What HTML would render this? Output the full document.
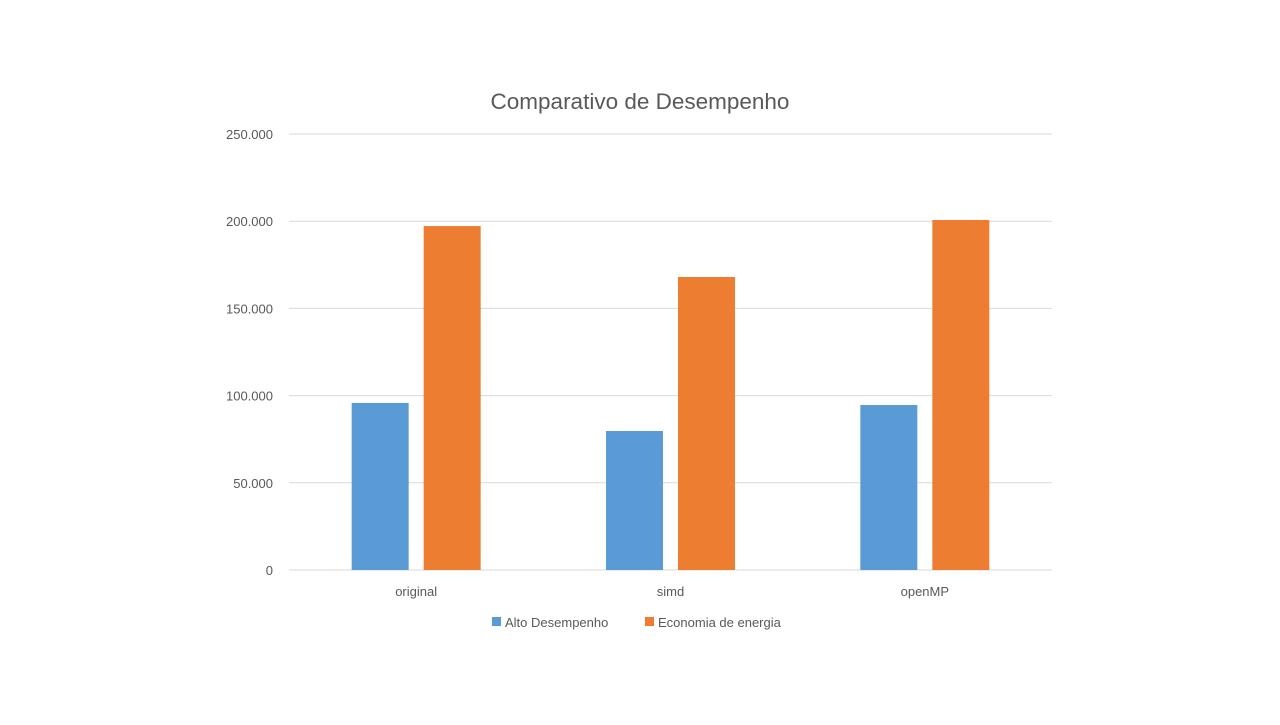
<!DOCTYPE html>
<html><head><meta charset="utf-8"><style>
body{margin:0;background:#fff;font-family:"Liberation Sans",sans-serif;}
</style></head><body>
<svg width="1280" height="720" id="c" xmlns="http://www.w3.org/2000/svg">
<rect width="1280" height="720" fill="#fff"/>
<text x="640" y="109" text-anchor="middle" font-size="22.5" fill="#595959">Comparativo de Desempenho</text>
</svg>
<script>
const categories=["original","simd","openMP"];
const altoValues=[95.8,79.7,94.6];
const economiaValues=[197.2,168.0,200.7];
const tickValues=[0,50,100,150,200,250];
const tickLabels=["0","50.000","100.000","150.000","200.000","250.000"];
const svg=document.getElementById('c');
const NS='http://www.w3.org/2000/svg';
const x0=289,x1=1052,yTop=134,yBot=570,maxV=250;
const y=v=>yBot-(v/maxV)*(yBot-yTop);
const band=(x1-x0)/categories.length;
const cx=i=>x0+band*(i+0.5);
function mk(t,a){const e=document.createElementNS(NS,t);for(const k in a)e.setAttribute(k,a[k]);svg.appendChild(e);return e;}
tickValues.forEach((v,i)=>{
 const l=mk('line',{x1:x0,x2:x1,y1:y(v),y2:y(v),stroke:'#d9d9d9','stroke-width':1});
 
 
 const t=mk('text',{x:273,y:y(v)+5,'text-anchor':'end','font-size':13,fill:'#595959'});
 t.textContent=tickLabels[i];
 
 
});
const bw=57,gap=15;
categories.forEach((c,i)=>{
 const b1=mk('rect',{x:cx(i)-gap/2-bw,y:y(altoValues[i]),width:bw,height:yBot-y(altoValues[i]),fill:'#5b9bd5'});
 
 
 const b2=mk('rect',{x:cx(i)+gap/2,y:y(economiaValues[i]),width:bw,height:yBot-y(economiaValues[i]),fill:'#ed7d31'});
 
 
 const t=mk('text',{x:cx(i),y:596,'text-anchor':'middle','font-size':13,fill:'#595959'});
 t.textContent=c;
 
 
});
const legend=[["Alto Desempenho","#5b9bd5",492],["Economia de energia","#ed7d31",645]];
legend.forEach(([n,col,lx])=>{
 const r=mk('rect',{x:lx,y:617,width:9,height:9,fill:col});
 
 
 const t=mk('text',{x:lx+13,y:627,'font-size':13,fill:'#595959'});
 t.textContent=n;
 
 
});
</script>
</body></html>
